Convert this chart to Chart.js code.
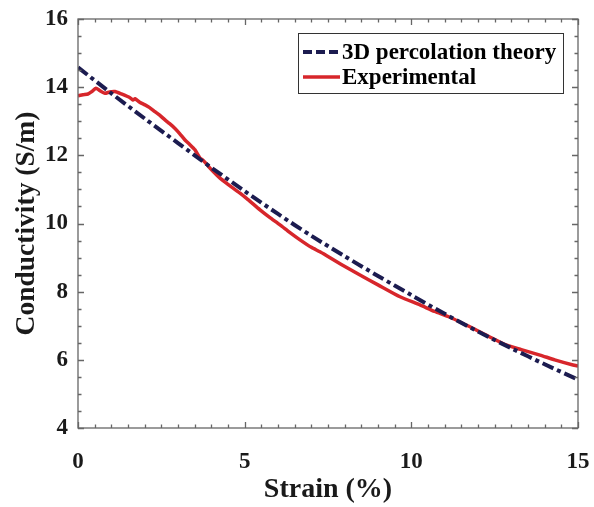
<!DOCTYPE html>
<html lang="en">
<head>
    <meta charset="UTF-8">
    <title>Conductivity vs Strain</title>
    <style>
        * { margin: 0; padding: 0; box-sizing: border-box; }
        body { background: #fff; width: 594px; height: 507px; overflow: hidden; }
        canvas { display: block; }
    </style>
</head>
<body>
    <canvas id="chart" width="594" height="507"></canvas>

    <script src="https://cdn.jsdelivr.net/npm/chart.js@4.4.0/dist/chart.umd.min.js"></script>
    <script>
        // Data
        const theoryStrain = [0, 1, 2, 3, 4, 5, 6, 7, 8, 9, 10, 11, 12, 13, 14, 15];
        const theoryCond = [14.58, 13.82, 13.08, 12.36, 11.64, 10.95, 10.28, 9.64, 9.04, 8.46, 7.90, 7.35, 6.83, 6.34, 5.87, 5.42];

        const expStrain = [0, 0.15, 0.3, 0.4, 0.54, 0.65, 0.81, 0.95, 1.11, 1.3, 1.56, 1.65, 1.71, 1.85, 2.01, 2.15,
            2.31, 2.45, 2.61, 2.75, 2.91, 3.05, 3.21, 3.35, 3.51, 3.66, 3.75, 4.0, 4.26, 4.5, 4.86, 5.1,
            5.46, 5.75, 6.06, 6.35, 6.66, 7.0, 7.26, 7.5, 7.9, 8.46, 9.0, 9.66, 10.26, 10.7, 11.16,
            11.86, 12.3, 12.86, 13.3, 13.86, 14.3, 14.85, 15];
        const expCond = [13.75, 13.78, 13.80, 13.86, 13.97, 13.90, 13.82, 13.86, 13.87, 13.80, 13.69, 13.62, 13.66, 13.56, 13.48, 13.40,
            13.28, 13.18, 13.04, 12.93, 12.79, 12.64, 12.45, 12.32, 12.16, 11.92, 11.86, 11.58, 11.33, 11.15, 10.89, 10.70,
            10.40, 10.18, 9.96, 9.74, 9.52, 9.30, 9.17, 9.03, 8.80, 8.49, 8.20, 7.85, 7.61, 7.42, 7.25,
            6.92, 6.70, 6.43, 6.30, 6.14, 6.00, 5.85, 5.82];

        const seriesLabels = ['3D percolation theory', 'Experimental'];

        const FONT = "'Liberation Serif', 'Times New Roman', serif";
        const NAVY = '#1c1c50';
        const RED = '#d7262b';
        const FRAME = '#666';

        // inward ticks, frame on all sides, and the boxed legend
        const framePlugin = {
            id: 'frame',
            afterDraw(chart) {
                const ctx = chart.ctx;
                const a = chart.chartArea;
                const xs = chart.scales.x;
                const ys = chart.scales.y;
                ctx.save();
                ctx.strokeStyle = FRAME;
                ctx.lineWidth = 1.3;
                ctx.strokeRect(a.left, a.top, a.right - a.left, a.bottom - a.top);
                ctx.beginPath();
                for (let v = xs.min; v <= xs.max + 1e-9; v += 0.5) {
                    const px = Math.round(xs.getPixelForValue(v)) + 0.5;
                    const len = (Math.abs(v % 5) < 1e-9) ? 6 : 3.5;
                    ctx.moveTo(px, a.bottom); ctx.lineTo(px, a.bottom - len);
                    ctx.moveTo(px, a.top); ctx.lineTo(px, a.top + len);
                }
                for (let v = ys.min; v <= ys.max + 1e-9; v += 0.5) {
                    const py = Math.round(ys.getPixelForValue(v)) + 0.5;
                    const len = (Math.abs(v % 2) < 1e-9) ? 6 : 3.5;
                    ctx.moveTo(a.left, py); ctx.lineTo(a.left + len, py);
                    ctx.moveTo(a.right, py); ctx.lineTo(a.right - len, py);
                }
                ctx.stroke();

                // legend
                const bx = 298, by = 33, bw = 265, bh = 60;
                ctx.fillStyle = '#fff';
                ctx.fillRect(bx, by, bw, bh);
                ctx.strokeStyle = '#333';
                ctx.lineWidth = 1;
                ctx.strokeRect(bx + 0.5, by + 0.5, bw, bh);
                const rows = [by + 19, by + 44];
                chart.data.datasets.forEach((ds, i) => {
                    ctx.strokeStyle = ds.borderColor;
                    ctx.lineWidth = ds.borderWidth;
                    ctx.setLineDash(i === 0 ? [9, 4] : []);
                    ctx.beginPath();
                    ctx.moveTo(bx + 5, rows[i]);
                    ctx.lineTo(bx + 42, rows[i]);
                    ctx.stroke();
                    ctx.setLineDash([]);
                    ctx.fillStyle = '#000';
                    ctx.font = 'bold 23px ' + FONT;
                    ctx.textBaseline = 'middle';
                    ctx.textAlign = 'left';
                    ctx.fillText(ds.label, bx + 44, rows[i] + 1);
                });
                ctx.restore();
            }
        };

        new Chart(document.getElementById('chart'), {
            type: 'line',
            data: {
                datasets: [
                    {
                        label: seriesLabels[0],
                        data: theoryStrain.map((x, i) => ({ x: x, y: theoryCond[i] })),
                        borderColor: NAVY,
                        borderWidth: 4,
                        borderDash: [12, 4, 4, 4],
                        pointRadius: 0,
                        tension: 0.3
                    },
                    {
                        label: seriesLabels[1],
                        data: expStrain.map((x, i) => ({ x: x, y: expCond[i] })),
                        borderColor: RED,
                        borderWidth: 3.5,
                        pointRadius: 0,
                        tension: 0.2
                    }
                ]
            },
            options: {
                responsive: false,
                animation: false,
                devicePixelRatio: 1,
                layout: { padding: { top: 19, right: 16, left: 0, bottom: 0 } },
                plugins: { legend: { display: false }, tooltip: { enabled: false } },
                scales: {
                    x: {
                        type: 'linear',
                        min: 0, max: 15,
                        grid: { display: false, drawTicks: false },
                        border: { display: false },
                        ticks: { stepSize: 5, padding: 20, color: '#1a1a1a', font: { family: FONT, size: 23, weight: 'bold' }, maxRotation: 0 },
                        title: { display: true, text: 'Strain (%)', color: '#1a1a1a', font: { family: FONT, size: 28, weight: 'bold' }, padding: { top: 0, bottom: 0 } },
                        afterFit(scale) { scale.height = 79; scale.paddingLeft = 0; scale.paddingRight = 0; }
                    },
                    y: {
                        min: 4, max: 16,
                        grid: { display: false, drawTicks: false },
                        border: { display: false },
                        ticks: { stepSize: 2, padding: 10, color: '#1a1a1a', font: { family: FONT, size: 23, weight: 'bold' } },
                        title: { display: true, text: 'Conductivity (S/m)', color: '#1a1a1a', font: { family: FONT, size: 27.5, weight: 'bold' }, padding: { top: 10, bottom: 0 } },
                        afterFit(scale) { scale.width = 78; scale.paddingTop = 0; scale.paddingBottom = 0; }
                    }
                }
            },
            plugins: [framePlugin]
        });
    </script>
</body>
</html>
